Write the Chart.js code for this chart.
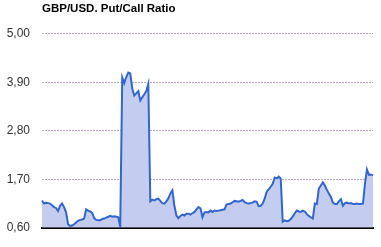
<!DOCTYPE html>
<html>
<head>
<meta charset="utf-8">
<script src="https://cdn.jsdelivr.net/npm/chart.js@4"></script>
<style>
  html, body { margin: 0; padding: 0; background: #fff; }
  #wrap { width: 381px; height: 247px; }
</style>
</head>
<body>
<div id="wrap"><canvas id="chartPutCall"></canvas></div>
<script>
const chartTitle = 'GBP/USD. Put/Call Ratio';

// y tick values (0,60 .. 5,00)
const yTicks = [0.6, 1.7, 2.8, 3.9, 5.0];

// daily put/call ratio
const ratio = [
  1.22, 1.15, 1.17, 1.16, 1.15, 1.11, 1.07, 1.05, 0.98, 1.10,
  1.15, 1.07, 0.95, 0.68, 0.64, 0.65, 0.68, 0.72, 0.76, 0.78,
  0.79, 0.81, 1.02, 0.99, 0.97, 0.94, 0.82, 0.78, 0.77, 0.77,
  0.80, 0.81, 0.83, 0.85, 0.87, 0.85, 0.86, 0.85, 0.84, 0.63,
  4.01, 3.88, 4.02, 4.12, 4.10, 3.76, 3.60, 3.65, 3.70, 3.49,
  3.56, 3.63, 3.70, 3.86, 1.20, 1.24, 1.22, 1.25, 1.26, 1.21,
  1.16, 1.15, 1.20, 1.27, 1.38, 1.45, 1.10, 0.88, 0.82, 0.87,
  0.90, 0.88, 0.92, 0.92, 0.90, 0.93, 0.96, 1.02, 1.07, 1.04,
  0.84, 0.95, 0.96, 0.95, 0.99, 0.96, 0.99, 0.98, 0.99, 1.00,
  1.01, 1.02, 1.13, 1.14, 1.15, 1.18, 1.21, 1.20, 1.19, 1.21,
  1.23, 1.18, 1.16, 1.15, 1.16, 1.17, 1.20, 1.19, 1.09, 1.10,
  1.15, 1.26, 1.42, 1.47, 1.53, 1.60, 1.74, 1.72, 1.76, 1.72,
  0.74, 0.77, 0.75, 0.76, 0.80, 0.86, 0.93, 0.99, 0.97, 0.96,
  0.99, 0.97, 0.91, 0.87, 0.84, 0.81, 1.15, 1.14, 1.49, 1.56,
  1.63, 1.56, 1.46, 1.38, 1.30, 1.17, 1.14, 1.14, 1.20, 1.25,
  1.10, 1.16, 1.17, 1.15, 1.16, 1.14, 1.14, 1.15, 1.14, 1.14,
  1.15, 1.60, 1.92, 1.80, 1.81, 1.79
];

const days = ratio.map((_, i) => i + 1);

const fontFamily = 'Arial, "Liberation Sans", sans-serif';

const config = {
  type: 'line',
  data: {
    labels: days,
    datasets: [{
      label: chartTitle,
      data: ratio,
      borderColor: '#3366cc',
      backgroundColor: '#c4cdf0',
      borderWidth: 2,
      pointRadius: 0,
      tension: 0,
      fill: 'start'
    }]
  },
  options: {
    responsive: true,
    maintainAspectRatio: false,
    animation: false,
    layout: { padding: { left: 0, right: 8, top: 0, bottom: 0 } },
    plugins: {
      legend: { display: false },
      tooltip: { enabled: false },
      title: {
        display: true,
        text: chartTitle,
        align: 'start',
        fullSize: false,
        color: '#000',
        font: { family: fontFamily, size: 11.5, weight: 'bold', lineHeight: 1.2 },
        padding: { top: 2, bottom: 18 }
      }
    },
    scales: {
      x: {
        offset: false,
        ticks: { display: false },
        grid: { display: false, drawTicks: false },
        border: { display: true, color: '#000', width: 2 },
        afterFit: (scale) => { scale.height = 9; }
      },
      y: {
        min: 0.6,
        max: 5.0,
        afterBuildTicks: (axis) => { axis.ticks = yTicks.map(v => ({ value: v })); },
        afterFit: (scale) => { scale.width = 42; },
        ticks: {
          padding: 12,
          color: '#333',
          font: { family: fontFamily, size: 12 },
          callback: (v) => Number(v).toFixed(2).replace('.', ',')
        },
        grid: { color: '#c9a3cf', lineWidth: 1, drawTicks: false },
        border: { display: false, dash: [2, 1] }
      }
    }
  }
};

new Chart(document.getElementById('chartPutCall').getContext('2d'), config);
</script>
</body>
</html>
